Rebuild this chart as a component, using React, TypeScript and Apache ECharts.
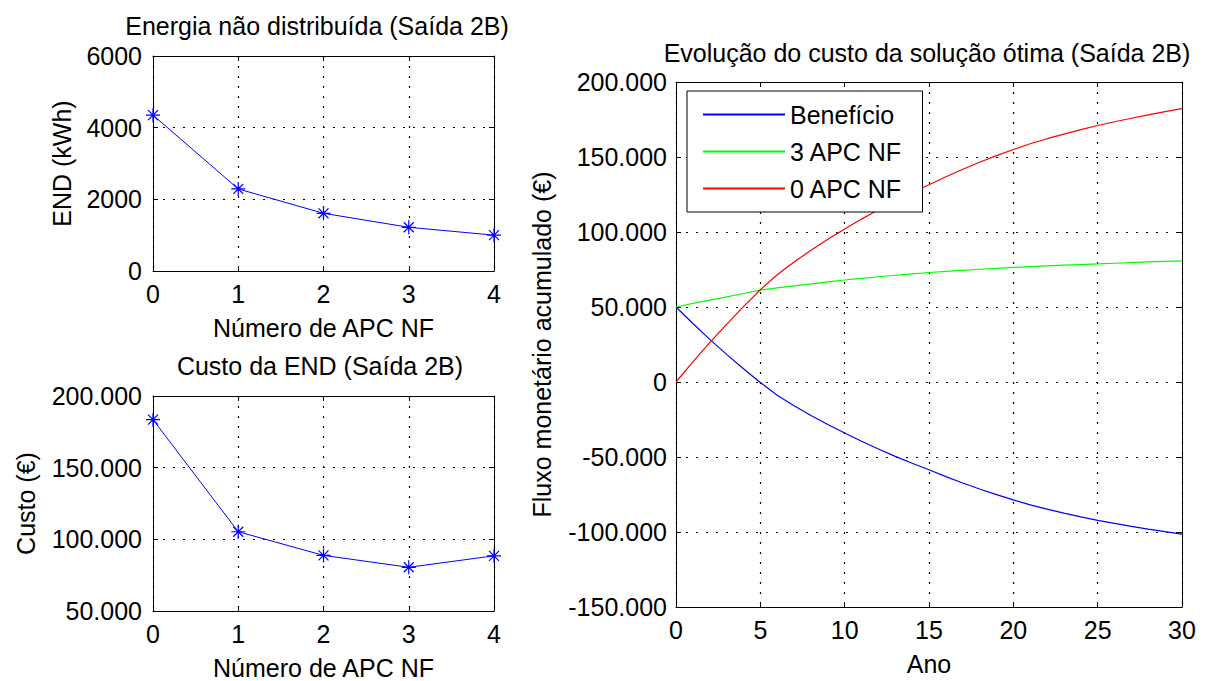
import React, { useEffect, useRef } from "react";
import * as echarts from "echarts";

// Left panels: number of non-fault APC devices
const apcCounts = [0, 1, 2, 3, 4];
const endKWh = [4350, 2290, 1610, 1220, 1000];
const endCost = [183500, 105300, 88800, 80500, 88500];

// Right panel: accumulated cash flow per year
const years = [
  0, 1, 2, 3, 4, 5, 6, 7, 8, 9, 10, 11, 12, 13, 14, 15, 16, 17, 18, 19, 20,
  21, 22, 23, 24, 25, 26, 27, 28, 29, 30,
];
const beneficio = [
  50000, 39000, 28400, 18400, 8800, -300, -8800, -15900, -22350, -28350,
  -34000, -39500, -44650, -49550, -54200, -58500, -63100, -67300, -71300,
  -75100, -78600, -81900, -84800, -87400, -89900, -92300, -94300, -96200,
  -98100, -99800, -101400,
];
const apc3 = [
  50000, 52400, 54600, 56800, 59000, 61200, 62700, 64100, 65450, 66750, 68000,
  69100, 70150, 71150, 72100, 73000, 73760, 74480, 75160, 75800, 76400, 76920,
  77410, 77870, 78310, 78730, 79180, 79610, 80020, 80420, 80800,
];
const apc0 = [
  0, 13400, 26200, 38400, 50200, 61500, 71500, 80000, 87800, 95100, 102000,
  108600, 114800, 120700, 126300, 131500, 136800, 141800, 146500, 150900,
  155000, 158800, 162200, 165300, 168200, 171000, 173500, 175850, 178100,
  180200, 182200,
];

const seriesNames = ["Benefício", "3 APC NF", "0 APC NF"];
const seriesColors = ["#0000ff", "#00ff00", "#ff0000"];

const FONT = '"Liberation Sans", Arial, Helvetica, sans-serif';
const FS = 25;

const plain = (v: number) => String(v);
const thousands = (v: number) => {
  const s = Math.abs(v)
    .toString()
    .replace(/\B(?=(\d{3})+(?!\d))/g, ".");
  return (v < 0 ? "-" : "") + s;
};

const textBase = { color: "#000", fontSize: FS, fontFamily: FONT };
const axisLine = { show: true, onZero: false, lineStyle: { color: "#000", width: 1 } };
const axisTick = { show: true, inside: true, length: 5, lineStyle: { color: "#000", width: 1 } };
const gridLine = { show: true, lineStyle: { color: "#000", width: 1.2, type: [2, 8] as number[] } };

function mainX(gridIndex: number, min: number, max: number, interval: number, name: string) {
  return {
    type: "value",
    gridIndex,
    min,
    max,
    interval,
    position: "bottom",
    name,
    nameLocation: "middle",
    nameGap: 44,
    nameTextStyle: textBase,
    axisLine,
    axisTick,
    axisLabel: { ...textBase, margin: 10, formatter: plain },
    splitLine: gridLine,
  };
}

function mainY(
  gridIndex: number,
  min: number,
  max: number,
  interval: number,
  name: string,
  nameGap: number,
  margin: number,
  formatter: (v: number) => string
) {
  return {
    type: "value",
    gridIndex,
    min,
    max,
    interval,
    position: "left",
    name,
    nameLocation: "middle",
    nameGap,
    nameTextStyle: textBase,
    axisLine,
    axisTick,
    axisLabel: { ...textBase, margin, formatter },
    splitLine: gridLine,
  };
}

function boxAxis(gridIndex: number, min: number, max: number, interval: number, position: string) {
  return {
    type: "value",
    gridIndex,
    min,
    max,
    interval,
    position,
    axisLine,
    axisTick,
    axisLabel: { show: false },
    splitLine: { show: false },
  };
}

const asterisk = "path://M8,0L8,16M0,8L16,8M2.3,2.3L13.7,13.7M2.3,13.7L13.7,2.3";

function titleText(x: number, y: number, text: string) {
  return {
    type: "text",
    x,
    y,
    silent: true,
    style: {
      text,
      fill: "#000",
      fontSize: FS,
      fontFamily: FONT,
      align: "center",
      verticalAlign: "middle",
    },
  };
}

export default function App() {
  const ref = useRef<HTMLDivElement>(null);

  useEffect(() => {
    if (!ref.current) return;
    const chart = echarts.init(ref.current, null, { renderer: "svg" });

    const option = {
      animation: false,
      backgroundColor: "#ffffff",
      textStyle: { fontFamily: FONT },
      grid: [
        { left: 153, top: 56, width: 341, height: 215 },
        { left: 153, top: 396, width: 341, height: 215 },
        { left: 676, top: 82, width: 506, height: 527 },
      ],
      xAxis: [
        mainX(0, 0, 4, 1, "Número de APC NF"),
        mainX(1, 0, 4, 1, "Número de APC NF"),
        mainX(2, 0, 30, 5, "Ano"),
        boxAxis(0, 0, 4, 1, "top"),
        boxAxis(1, 0, 4, 1, "top"),
        boxAxis(2, 0, 30, 5, "top"),
      ],
      yAxis: [
        mainY(0, 0, 6000, 2000, "END (kWh)", 79, 11, plain),
        mainY(1, 50000, 200000, 50000, "Custo (€)", 115, 11, thousands),
        mainY(2, -150000, 200000, 50000, "Fluxo monetário acumulado (€)", 122, 9, thousands),
        boxAxis(0, 0, 6000, 2000, "right"),
        boxAxis(1, 50000, 200000, 50000, "right"),
        boxAxis(2, -150000, 200000, 50000, "right"),
      ],
      legend: {
        data: seriesNames,
        orient: "vertical",
        left: 687,
        top: 91,
        padding: [11, 20, 11, 16],
        itemWidth: 82,
        itemHeight: 2,
        itemGap: 12,
        icon: "rect",
        backgroundColor: "#ffffff",
        borderColor: "#000",
        borderWidth: 1,
        borderRadius: 0,
        textStyle: { ...textBase, lineHeight: 25 },
        z: 10,
      },
      graphic: [
        titleText(317, 26, "Energia não distribuída (Saída 2B)"),
        titleText(320, 366, "Custo da END (Saída 2B)"),
        titleText(927, 53, "Evolução do custo da solução ótima (Saída 2B)"),
      ],
      series: [
        {
          type: "line",
          xAxisIndex: 0,
          yAxisIndex: 0,
          data: apcCounts.map((n, i) => [n, endKWh[i]]),
          symbol: asterisk,
          symbolSize: 14,
          lineStyle: { color: "#0000ff", width: 1 },
          itemStyle: { color: "#0000ff", borderColor: "#0000ff", borderWidth: 1.2 },
        },
        {
          type: "line",
          xAxisIndex: 1,
          yAxisIndex: 1,
          data: apcCounts.map((n, i) => [n, endCost[i]]),
          symbol: asterisk,
          symbolSize: 14,
          lineStyle: { color: "#0000ff", width: 1 },
          itemStyle: { color: "#0000ff", borderColor: "#0000ff", borderWidth: 1.2 },
        },
        ...[beneficio, apc3, apc0].map((vals, k) => ({
          name: seriesNames[k],
          type: "line",
          xAxisIndex: 2,
          yAxisIndex: 2,
          data: years.map((y, i) => [y, vals[i]]),
          showSymbol: false,
          symbol: "none",
          lineStyle: { color: seriesColors[k], width: 1.2 },
          itemStyle: { color: seriesColors[k] },
        })),
      ],
    };

    chart.setOption(option as any);
    return () => chart.dispose();
  }, []);

  return (
    <div
      ref={ref}
      style={{ position: "fixed", left: 0, top: 0, width: 1206, height: 681, background: "#fff" }}
    />
  );
}
